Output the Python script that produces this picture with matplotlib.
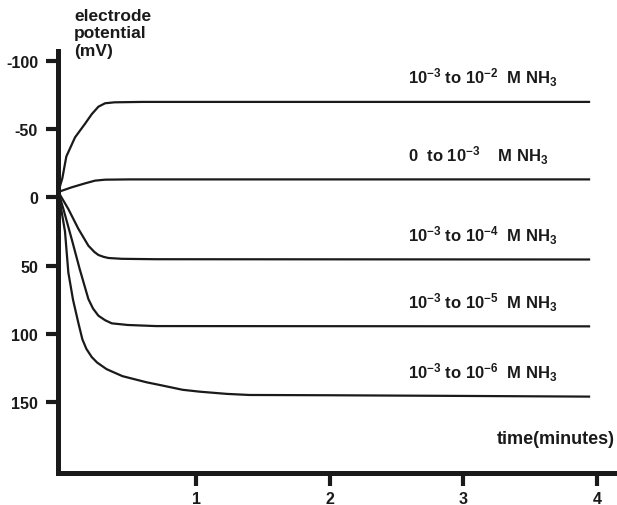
import matplotlib
matplotlib.use("Agg")
import matplotlib.pyplot as plt

# curves: time in minutes, potential in mV (axis inverted)
t_1e2 = [-0.03, 0.0, 0.03, 0.095, 0.17, 0.22, 0.27, 0.32, 0.39, 0.6, 3.94]
v_1e2 = [-4, -14, -30, -44, -54, -61, -66.5, -69, -69.7, -70, -70]

t_0 = [-0.03, 0.07, 0.17, 0.245, 0.32, 0.5, 3.94]
v_0 = [-4, -7.4, -10.3, -12.3, -13, -13.2, -13.2]

t_1e4 = [-0.03, 0.045, 0.12, 0.195, 0.24, 0.27, 0.31, 0.345, 0.445, 0.7, 3.94]
v_1e4 = [-4, 8.5, 23, 35.4, 40, 42.2, 43.6, 44.4, 45, 45.3, 45.5]

t_1e5 = [-0.03, 0.008, 0.07, 0.13, 0.195, 0.23, 0.27, 0.32, 0.37, 0.49, 0.7, 3.94]
v_1e5 = [-4, 8.5, 30.5, 52.5, 74.5, 81.5, 86.7, 90, 92.3, 93.5, 94.3, 94.5]

t_1e6 = [-0.03, 0.02, 0.045, 0.08, 0.12, 0.15, 0.18, 0.22, 0.26, 0.33, 0.38, 0.45,
         0.53, 0.63, 0.73, 0.9, 1.03, 1.23, 1.4, 2.0, 3.0, 3.94]
v_1e6 = [-4, 25, 55, 75, 92, 104, 111, 117, 121, 125.8, 128, 131,
         133, 135.5, 137.5, 141, 142.4, 144, 144.8, 145, 145.5, 146]

labels = [r"10$^{-3}$ to 10$^{-2}$  M NH$_3$",
          r"0  to 10$^{-3}$    M NH$_3$",
          r"10$^{-3}$ to 10$^{-4}$  M NH$_3$",
          r"10$^{-3}$ to 10$^{-5}$  M NH$_3$",
          r"10$^{-3}$ to 10$^{-6}$  M NH$_3$"]

yticks = [-100, -50, 0, 50, 100, 150]
xticks = [1, 2, 3, 4]

plt.rcParams['font.family'] = ['Liberation Sans', 'DejaVu Sans']
plt.rcParams['font.weight'] = 'bold'
plt.rcParams['mathtext.fontset'] = 'custom'
plt.rcParams['mathtext.rm'] = 'Liberation Sans:bold'
plt.rcParams['mathtext.it'] = 'Liberation Sans:bold'
plt.rcParams['mathtext.bf'] = 'Liberation Sans:bold'
plt.rcParams['mathtext.default'] = 'regular'
plt.rcParams['axes.unicode_minus'] = False

fig = plt.figure(figsize=(6.17, 5.06), dpi=100)
ax = fig.add_axes([0.0932, 0.0632, 0.902, 0.834])

series = [(t_1e2, v_1e2), (t_0, v_0), (t_1e4, v_1e4), (t_1e5, v_1e5), (t_1e6, v_1e6)]
for (t, v), lab in zip(series, labels):
    ax.plot(t, v, color='#1a1a1a', lw=1.6, solid_joinstyle='round')
    ax.annotate(lab, (2.587, v[-1]), xytext=(0, 18), textcoords='offset points',
                ha='left', va='center', fontsize=12, fontweight='bold', color='#1a1a1a')

ax.set_xlim(-0.036, 4.127)
ax.set_ylim(202, -107.3)
ax.set_xticks(xticks)
ax.set_yticks(yticks)
ax.set_xticklabels([str(x) for x in xticks])
ax.set_yticklabels([str(y) for y in yticks])

for s in ['top', 'right']:
    ax.spines[s].set_visible(False)
for s in ['left', 'bottom']:
    ax.spines[s].set_linewidth(3.6)
    ax.spines[s].set_color('#1a1a1a')
    ax.spines[s].set_capstyle('projecting')

ax.tick_params(axis='both', length=9, width=3, color='#1a1a1a', labelsize=11.5,
               labelcolor='#1a1a1a')
ax.tick_params(axis='y', pad=5)
ax.tick_params(axis='x', pad=4)

fig.text(74 / 617, 1 - 9 / 506, "electrode\npotential\n(mV)", ha='left', va='top',
         fontsize=12.5, fontweight='bold', linespacing=1.2, color='#1a1a1a')
fig.text(615 / 617, 1 - 440 / 506, "time(minutes)", ha='right', va='center',
         fontsize=13, fontweight='bold', color='#1a1a1a')

fig.savefig("out.png", dpi=100)
